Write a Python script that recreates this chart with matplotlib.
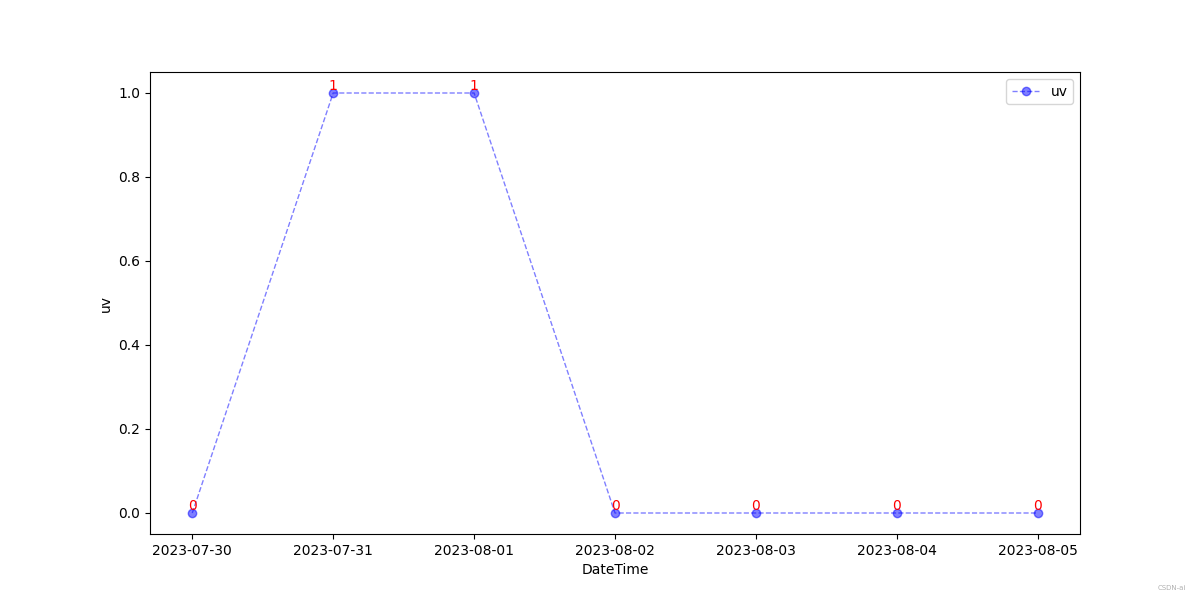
import matplotlib.pyplot as plt

dates = ["2023-07-30", "2023-07-31", "2023-08-01", "2023-08-02",
         "2023-08-03", "2023-08-04", "2023-08-05"]
uv = [0, 1, 1, 0, 0, 0, 0]

fig = plt.figure(figsize=(12, 6), dpi=100)
plt.plot(dates, uv, "bo--", alpha=0.5, linewidth=1, label="uv")

for d, v in zip(dates, uv):
    plt.text(d, v, str(v), ha="center", va="bottom", color="red", fontsize=10)

plt.xlabel("DateTime")
plt.ylabel("uv")
plt.legend(loc="upper right")

fig.text(0.988, 0.015, "CSDN-ai", fontsize=5, color="#b0b0b0", ha="right", va="bottom")
plt.savefig("out.png")
